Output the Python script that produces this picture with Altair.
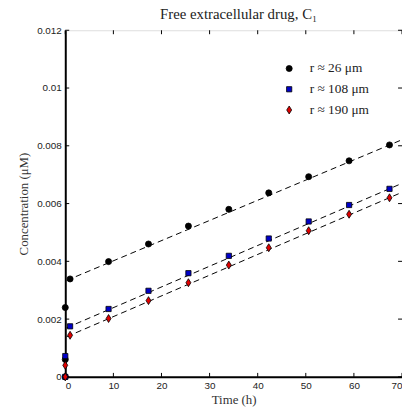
import altair as alt
import pandas as pd

# ---- data ----
series = ["r ≈ 26 μm", "r ≈ 108 μm", "r ≈ 190 μm"]
t_late = [1.0, 9.0, 17.3, 25.6, 34.0, 42.3, 50.6, 59.0, 67.4]

t_early_26 = [0.0, 0.0, 0.0]
c_early_26 = [0.0, 0.0006, 0.0024]
c_late_26 = [0.00339, 0.00399, 0.0046, 0.00522, 0.0058, 0.00637, 0.00693, 0.00748, 0.00803]

t_early_108 = [0.0, 0.0]
c_early_108 = [0.0, 0.00072]
c_late_108 = [0.00175, 0.00235, 0.00298, 0.00359, 0.00419, 0.00479, 0.00538, 0.00595, 0.00651]

t_early_190 = [0.0, 0.0]
c_early_190 = [0.0, 0.0004]
c_late_190 = [0.00144, 0.00202, 0.00264, 0.00326, 0.00387, 0.00447, 0.00506, 0.00563, 0.0062]

# dashed fit lines: start/end points
fit_t = [0.3, 70.0]
fit_26 = [0.00334, 0.00821]
fit_108 = [0.0017, 0.0067]
fit_190 = [0.00139, 0.00639]

x_ticks = [0, 10, 20, 30, 40, 50, 60, 70]
y_ticks = [0, 0.002, 0.004, 0.006, 0.008, 0.01, 0.012]

colors = ["#000000", "#0000c8", "#e00000"]
shapes = ["circle", "square", "M0,-1L0.62,0L0,1L-0.62,0Z"]
sizes = [38, 28, 65]

rows = []
for name, te, ce, cl in [
    (series[0], t_early_26, c_early_26, c_late_26),
    (series[1], t_early_108, c_early_108, c_late_108),
    (series[2], t_early_190, c_early_190, c_late_190),
]:
    for t, c in zip(te + t_late, ce + cl):
        rows.append({"t": t, "c": c, "s": name})
pts = pd.DataFrame(rows)

fits = pd.DataFrame(
    [{"t": t, "c": c, "s": name}
     for name, vals in zip(series, [fit_26, fit_108, fit_190])
     for t, c in zip(fit_t, vals)]
)

W, H = 341, 351
xs = alt.Scale(domain=[0, 70], nice=False, zero=False)
ys = alt.Scale(domain=[0, 0.012], nice=False)

lines = alt.Chart(fits).mark_line(
    color="black", strokeDash=[6, 4], strokeWidth=1, clip=True
).encode(
    x=alt.X("t:Q", scale=xs),
    y=alt.Y("c:Q", scale=ys),
    detail="s:N",
)

points = alt.Chart(pts).mark_point(
    filled=True, stroke="black", strokeWidth=0.8, opacity=1
).encode(
    x=alt.X("t:Q", scale=xs,
            axis=alt.Axis(values=x_ticks, title="Time (h)", grid=False, ticks=False,
                          domainWidth=2, domainColor="black", labelFont="Liberation Sans",
                          labelFontSize=10, labelColor="#222", labelPadding=4,
                          titleFont="Liberation Serif", titleFontSize=13,
                          titleFontWeight="normal", titleColor="#333", titlePadding=3)),
    y=alt.Y("c:Q", scale=ys,
            axis=alt.Axis(values=y_ticks, format=".3~f", title="Concentration (μM)",
                          grid=False, ticks=False, domainWidth=2, domainColor="black",
                          labelFont="Liberation Sans", labelFontSize=10, labelColor="#222",
                          labelPadding=4, titleFont="Liberation Serif", titleFontSize=13,
                          titleFontWeight="normal", titleColor="#333", titlePadding=6)),
    color=alt.Color("s:N", scale=alt.Scale(domain=series, range=colors),
                    legend=alt.Legend(title=None, orient="none", legendX=220, legendY=32,
                                      labelFont="Liberation Serif", labelFontSize=13.5,
                                      labelColor="#222", rowPadding=6, labelOffset=14,
                                      symbolStrokeColor="black", symbolStrokeWidth=0.8,
                                      padding=0)),
    shape=alt.Shape("s:N", scale=alt.Scale(domain=series, range=shapes)),
    size=alt.Size("s:N", scale=alt.Scale(type="ordinal", domain=series, range=sizes)),
    order=alt.Order("idx:Q"),
).transform_window(idx="row_number()")

xt = pd.DataFrame({"v": x_ticks})
yt = pd.DataFrame({"v": y_ticks})
tick_bottom = alt.Chart(xt).mark_rule(color="black", strokeWidth=1).encode(
    x=alt.X("v:Q", scale=xs), y=alt.value(H), y2=alt.value(H - 4))
tick_top = alt.Chart(xt).mark_rule(color="black", strokeWidth=1).encode(
    x=alt.X("v:Q", scale=xs), y=alt.value(0), y2=alt.value(4))
tick_left = alt.Chart(yt).mark_rule(color="black", strokeWidth=1).encode(
    y=alt.Y("v:Q", scale=ys), x=alt.value(0), x2=alt.value(4))
tick_right = alt.Chart(yt).mark_rule(color="black", strokeWidth=1).encode(
    y=alt.Y("v:Q", scale=ys), x=alt.value(W), x2=alt.value(W - 4))

chart = alt.layer(lines, tick_bottom, tick_top, tick_left, tick_right, points).properties(
    width=W, height=H,
    title=alt.Title("Free extracellular drug, C₁", font="Liberation Serif", fontSize=15,
                    fontWeight="normal", color="#222", anchor="middle", offset=3, dx=5),
    autosize=alt.AutoSizeParams(type="none"),
    padding={"left": 58, "top": 20, "right": 0, "bottom": 30},
).configure_view(stroke="black", strokeWidth=1).configure(background="white")

chart.save("out.html", embed_options={"renderer": "svg", "actions": False})
